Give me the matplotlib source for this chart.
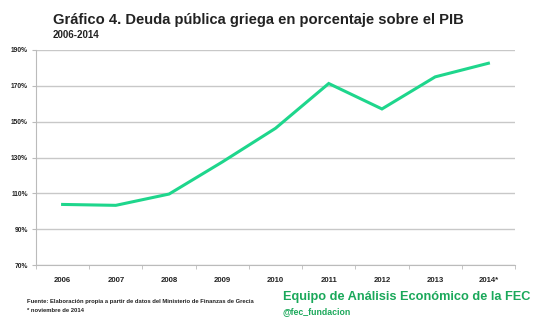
import matplotlib
matplotlib.use("Agg")
import matplotlib.pyplot as plt
from matplotlib.ticker import FuncFormatter

years = ["2006", "2007", "2008", "2009", "2010", "2011", "2012", "2013", "2014*"]
debt = [103.8, 103.3, 109.6, 127.5, 146.3, 171.3, 157.1, 175.0, 182.6]
yticks = [70, 90, 110, 130, 150, 170, 190]

plt.rcParams['font.family'] = ['Liberation Sans', 'DejaVu Sans']

fig = plt.figure(figsize=(5.52, 3.22), dpi=100)
ax = fig.add_axes([36/552, 1-265/322, (515-36)/552, (265-50)/322])

x = list(range(len(years)))
ax.plot(x, debt, color='#1ed68c', lw=2.2, solid_joinstyle='miter', zorder=3)

ax.set_xlim(-0.5, len(years) - 0.5)
ax.set_ylim(70, 190)
ax.set_yticks(yticks)
ax.yaxis.set_major_formatter(FuncFormatter(lambda v, p: f"{int(v)}%"))
ax.grid(axis='y', color='#c8c8c8', lw=1)
ax.set_axisbelow(True)
ax.set_xticks(x)
ax.set_xticklabels(years)
ax.set_xticks([i + 0.5 for i in x[:-1]] + [-0.5, len(years) - 0.5], minor=True)
ax.tick_params(axis='x', which='major', length=0, pad=9, labelsize=5.6, colors='#222222')
ax.tick_params(axis='x', which='minor', length=3, color='#bbbbbb')
ax.tick_params(axis='y', length=3, color='#bbbbbb', labelsize=4.8, pad=3, labelcolor='#222222')
for lab in ax.get_xticklabels() + ax.get_yticklabels():
    lab.set_fontweight('bold')
for s in ['top', 'right']:
    ax.spines[s].set_visible(False)
ax.spines['left'].set_color('#bbbbbb')
ax.spines['bottom'].set_color('#bbbbbb')

fig.text(53/552, 1-20/322, "Gráfico 4. Deuda pública griega en porcentaje sobre el PIB",
         fontsize=10.6, fontweight='bold', color='#222222', va='center', ha='left')
fig.text(53/552, 1-35/322, "2006-2014", fontsize=7, fontweight='bold', color='#222222',
         va='center', ha='left')
fig.text(27/552, 1-302/322, "Fuente: Elaboración propia a partir de datos del Ministerio de Finanzas de Grecia",
         fontsize=4.25, fontweight='bold', color='#222222', va='center', ha='left')
fig.text(27/552, 1-311/322, "* noviembre de 2014", fontsize=4.25, fontweight='bold',
         color='#222222', va='center', ha='left')
fig.text(283/552, 1-297/322, "Equipo de Análisis Económico de la FEC", fontsize=9.15,
         fontweight='bold', color='#1aa85a', va='center', ha='left')
fig.text(283/552, 1-312/322, "@fec_fundacion", fontsize=6.3, fontweight='bold',
         color='#1aa85a', va='center', ha='left')

fig.savefig("out.png", dpi=100)
